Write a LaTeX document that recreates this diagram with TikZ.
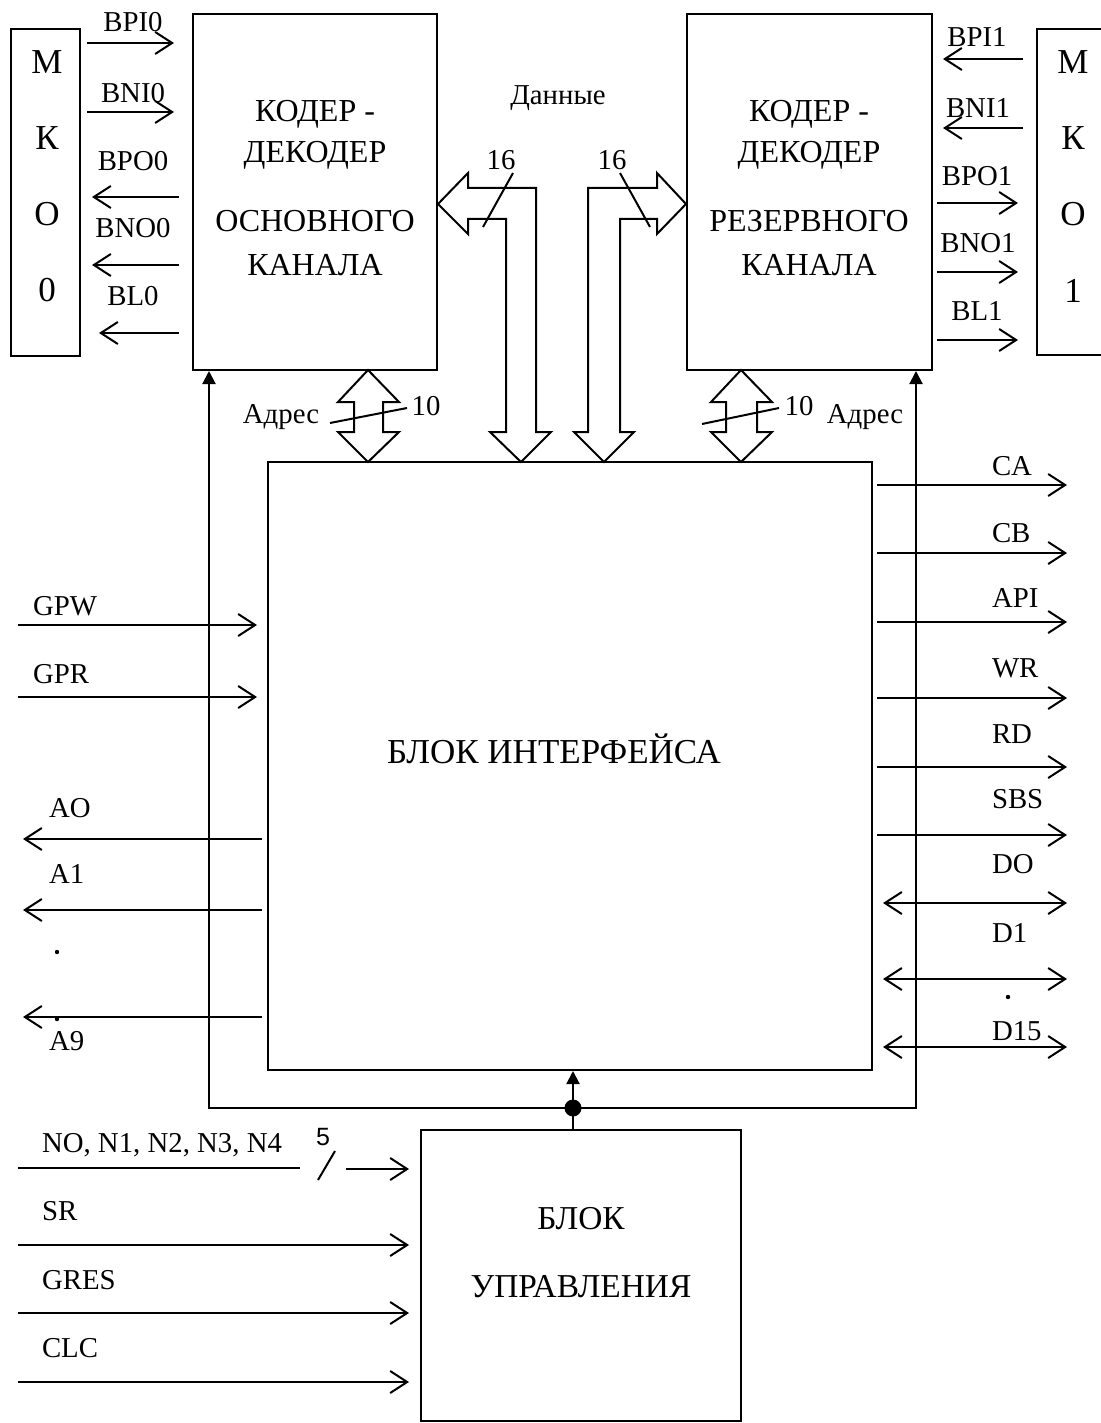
\documentclass[tikz,border=0pt]{standalone}
\usepackage{fontspec}
\setmainfont{Liberation Serif}
\newfontfamily\sansf{Liberation Sans}
\usetikzlibrary{arrows.meta,fit}
\begin{document}
\begin{tikzpicture}[x=0.5pt,y=-0.5pt,line width=1pt,
  boxst/.style={draw,inner sep=0pt,line width=1pt},
  big/.style={font=\fontsize{16pt}{18pt}\selectfont,anchor=base,inner sep=0pt},
  huge/.style={font=\fontsize{17.5pt}{20pt}\selectfont,anchor=base,inner sep=0pt},
  lab/.style={font=\fontsize{14.4pt}{16pt}\selectfont,anchor=base,inner sep=0pt},
  labl/.style={lab,anchor=base west},
  sig/.style={-{Straight Barb[length=8.5pt,width=11pt]}},
  bsig/.style={{Straight Barb[length=8.5pt,width=11pt]}-{Straight Barb[length=8.5pt,width=11pt]}},
  fsig/.style={-{Triangle[length=6.5pt,width=6.5pt]}},
  blk/.style={draw,line width=1pt,line join=miter}]
\useasboundingbox (0,0) rectangle (1101,1423);
% ---------- boxes ----------
\coordinate (m0a) at (11,29);  \coordinate (m0b) at (80,356);
\node (mko0) [boxst,fit=(m0a)(m0b)] {};
\coordinate (m1a) at (1037,29); \coordinate (m1b) at (1115,355);
\node (mko1) [boxst,fit=(m1a)(m1b)] {};
\coordinate (c0a) at (193,14);  \coordinate (c0b) at (437,370);
\node (cod0) [boxst,fit=(c0a)(c0b)] {};
\coordinate (c1a) at (687,14);  \coordinate (c1b) at (932,370);
\node (cod1) [boxst,fit=(c1a)(c1b)] {};
\coordinate (ia) at (268,462);  \coordinate (ib) at (872,1070);
\node (intf) [boxst,fit=(ia)(ib)] {};
\coordinate (ua) at (421,1130); \coordinate (ub) at (741,1421);
\node (ctrl) [boxst,fit=(ua)(ub)] {};
% ---------- box texts ----------
\node (m0t1) [huge] at (47,74) {М};
\node (m0t2) [huge] at (47,150) {К};
\node (m0t3) [huge] at (47,226) {О};
\node (m0t4) [huge] at (47,301) {0};
\node (m1t1) [huge] at (1073,74) {М};
\node (m1t2) [huge] at (1073,150) {К};
\node (m1t3) [huge] at (1073,226) {О};
\node (m1t4) [huge] at (1073,302) {1};
\node (c0t1) [big] at (315,122) {КОДЕР -};
\node (c0t2) [big] at (315,163) {ДЕКОДЕР};
\node (c0t3) [big] at (315,232) {ОСНОВНОГО};
\node (c0t4) [big] at (315,275) {КАНАЛА};
\node (c1t1) [big] at (809,122) {КОДЕР -};
\node (c1t2) [big] at (809,163) {ДЕКОДЕР};
\node (c1t3) [big] at (809,232) {РЕЗЕРВНОГО};
\node (c1t4) [big] at (809,275) {КАНАЛА};
\node (it) [big,font=\fontsize{17.5pt}{20pt}\selectfont] at (554,763) {БЛОК ИНТЕРФЕЙСА};
\node (ct1) [big,font=\fontsize{16.7pt}{19pt}\selectfont] at (581,1229) {БЛОК};
\node (ct2) [big,font=\fontsize{16.7pt}{19pt}\selectfont] at (581,1297) {УПРАВЛЕНИЯ};
% ---------- left MKO0 signals ----------
\coordinate (s1a) at (87,43);  \coordinate (s1b) at (174,43);
\coordinate (s2a) at (87,112); \coordinate (s2b) at (174,112);
\coordinate (s3a) at (179,197); \coordinate (s3b) at (92,197);
\coordinate (s4a) at (179,265); \coordinate (s4b) at (92,265);
\coordinate (s5a) at (179,333); \coordinate (s5b) at (99,333);
\draw[sig] (s1a) -- (s1b);
\draw[sig] (s2a) -- (s2b);
\draw[sig] (s3a) -- (s3b);
\draw[sig] (s4a) -- (s4b);
\draw[sig] (s5a) -- (s5b);
\node (l1) [lab] at (133,32) {BPI0};
\node (l2) [lab] at (133,103) {BNI0};
\node (l3) [lab] at (133,171) {BPO0};
\node (l4) [lab] at (133,238) {BNO0};
\node (l5) [lab] at (133,305) {BL0};
% ---------- right MKO1 signals ----------
\coordinate (r1a) at (1023,59);  \coordinate (r1b) at (943,59);
\coordinate (r2a) at (1023,128); \coordinate (r2b) at (943,128);
\coordinate (r3a) at (937,203);  \coordinate (r3b) at (1018,203);
\coordinate (r4a) at (937,272);  \coordinate (r4b) at (1018,272);
\coordinate (r5a) at (937,340);  \coordinate (r5b) at (1018,340);
\draw[sig] (r1a) -- (r1b);
\draw[sig] (r2a) -- (r2b);
\draw[sig] (r3a) -- (r3b);
\draw[sig] (r4a) -- (r4b);
\draw[sig] (r5a) -- (r5b);
\node (q1) [lab] at (977,47) {BPI1};
\node (q2) [lab] at (978,118) {BNI1};
\node (q3) [lab] at (977,186) {BPO1};
\node (q4) [lab] at (978,253) {BNO1};
\node (q5) [lab] at (977,320) {BL1};
% ---------- data buses ----------
\draw[blk] (cod0.east |- 0,204) -- (468,173) -- (468,188) -- (536,188) -- (536,432)
  -- (551,432) -- (521,462) -- (490,432) -- (506,432) -- (506,219) -- (468,219)
  -- (468,234) -- cycle;
\draw[blk] (cod1.west |- 0,204) -- (657,173) -- (657,188) -- (588,188) -- (588,432)
  -- (574,432) -- (604,462) -- (634,432) -- (620,432) -- (620,219) -- (657,219)
  -- (657,234) -- cycle;
\coordinate (d1a) at (513,173); \coordinate (d1b) at (483,227);
\coordinate (d2a) at (620,173); \coordinate (d2b) at (650,227);
\draw (d1a) -- (d1b);
\draw (d2a) -- (d2b);
\node (n16a) [lab] at (501,170) {16};
\node (n16b) [lab] at (612,170) {16};
\node (dat) [lab] at (558,105) {Данные};
% ---------- address buses ----------
\draw[blk] (368,370) -- (399,402) -- (383,402) -- (383,432) -- (399,432) -- (368,462)
  -- (338,432) -- (354,432) -- (354,402) -- (338,402) -- cycle;
\draw[blk] (741,370) -- (772,402) -- (757,402) -- (757,432) -- (772,432) -- (741,462)
  -- (711,432) -- (726,432) -- (726,402) -- (711,402) -- cycle;
\coordinate (a1a) at (330,423); \coordinate (a1b) at (407,408);
\coordinate (a2a) at (702,424); \coordinate (a2b) at (779,408);
\draw (a1a) -- (a1b);
\draw (a2a) -- (a2b);
\node (n10a) [lab] at (426,415) {10};
\node (n10b) [lab] at (799,415) {10};
\node (adr0) [lab] at (281,423) {Адрес};
\node (adr1) [lab] at (865,423) {Адрес};
% ---------- feedback from control block ----------
\coordinate (fbL) at (209,1108);
\coordinate (fbR) at (916,1108);
\coordinate (fbM) at (573,1108);
\draw[fsig] (fbM) -- (fbL) -- (cod0.south -| fbL);
\draw[fsig] (fbM) -- (fbR) -- (cod1.south -| fbR);
\draw[fsig] (ctrl.north -| fbM) -- (intf.south -| fbM);
\fill (fbM) circle (8.5);
% ---------- left interface signals ----------
\coordinate (g1a) at (18,625); \coordinate (g1b) at (257,625);
\coordinate (g2a) at (18,697); \coordinate (g2b) at (257,697);
\draw[sig] (g1a) -- (g1b);
\draw[sig] (g2a) -- (g2b);
\node (gpw) [labl] at (32,615) {GPW};
\node (gpr) [labl] at (32,683) {GPR};
\coordinate (o1a) at (262,839);  \coordinate (o1b) at (23,839);
\coordinate (o2a) at (262,910);  \coordinate (o2b) at (23,910);
\coordinate (o3a) at (262,1017); \coordinate (o3b) at (23,1017);
\draw[sig] (o1a) -- (o1b);
\draw[sig] (o2a) -- (o2b);
\draw[sig] (o3a) -- (o3b);
\node (ao) [labl] at (48,817) {AO};
\node (a1) [labl] at (48,883) {A1};
\node (a9) [labl] at (48,1050) {A9};
\fill (57,952) circle (2.2);
\fill (57,1019) circle (2.2);
% ---------- right interface signals ----------
\coordinate (t1a) at (877,485); \coordinate (t1b) at (1067,485);
\coordinate (t2a) at (877,553); \coordinate (t2b) at (1067,553);
\coordinate (t3a) at (877,622); \coordinate (t3b) at (1067,622);
\coordinate (t4a) at (877,698); \coordinate (t4b) at (1067,698);
\coordinate (t5a) at (877,767); \coordinate (t5b) at (1067,767);
\coordinate (t6a) at (877,835); \coordinate (t6b) at (1067,835);
\draw[sig] (t1a) -- (t1b);
\draw[sig] (t2a) -- (t2b);
\draw[sig] (t3a) -- (t3b);
\draw[sig] (t4a) -- (t4b);
\draw[sig] (t5a) -- (t5b);
\draw[sig] (t6a) -- (t6b);
\coordinate (u1a) at (883,903);  \coordinate (u1b) at (1067,903);
\coordinate (u2a) at (883,979);  \coordinate (u2b) at (1067,979);
\coordinate (u3a) at (883,1047); \coordinate (u3b) at (1067,1047);
\draw[bsig] (u1a) -- (u1b);
\draw[bsig] (u2a) -- (u2b);
\draw[bsig] (u3a) -- (u3b);
\node (ca)  [labl] at (991,475) {CA};
\node (cb)  [labl] at (991,542) {CB};
\node (api) [labl] at (991,607) {API};
\node (wr)  [labl] at (991,677) {WR};
\node (rd)  [labl] at (991,743) {RD};
\node (sbs) [labl] at (991,808) {SBS};
\node (do)  [labl] at (991,873) {DO};
\node (d1)  [labl] at (991,942) {D1};
\node (d15) [labl] at (991,1040) {D15};
\fill (1008,997) circle (2.2);
% ---------- control block inputs ----------
\coordinate (k1a) at (18,1168);  \coordinate (k1b) at (300,1168);
\coordinate (k1c) at (346,1169); \coordinate (k1d) at (409,1169);
\draw (k1a) -- (k1b);
\draw[sig] (k1c) -- (k1d);
\coordinate (sl1) at (335,1151); \coordinate (sl2) at (318,1180);
\draw (sl1) -- (sl2);
\node (five) [font=\sansf\fontsize{12.5pt}{14pt}\selectfont,anchor=base,inner sep=0pt] at (323,1145) {5};
\coordinate (k2a) at (18,1245); \coordinate (k2b) at (409,1245);
\coordinate (k3a) at (18,1313); \coordinate (k3b) at (409,1313);
\coordinate (k4a) at (18,1382); \coordinate (k4b) at (409,1382);
\draw[sig] (k2a) -- (k2b);
\draw[sig] (k3a) -- (k3b);
\draw[sig] (k4a) -- (k4b);
\node (nn)   [labl] at (41,1152) {NO, N1, N2, N3, N4};
\node (sr)   [labl] at (41,1220) {SR};
\node (gres) [labl] at (41,1289) {GRES};
\node (clc)  [labl] at (41,1357) {CLC};
\end{tikzpicture}
\end{document}
